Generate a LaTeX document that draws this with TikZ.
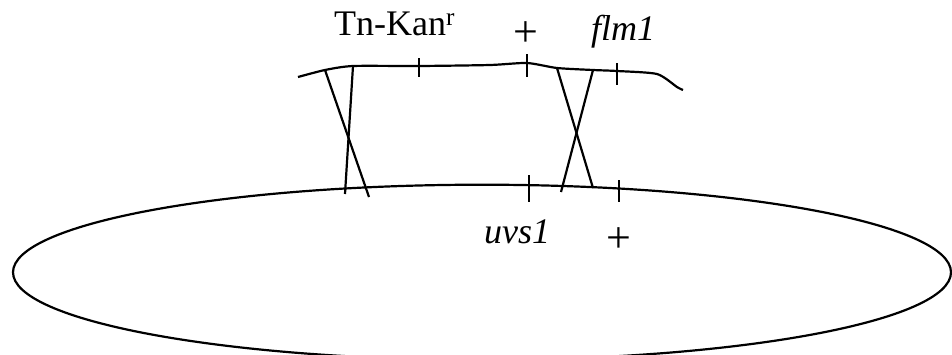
\documentclass[tikz,border=0pt]{standalone}
\usepackage{fontspec}
\setmainfont{Liberation Serif}
\begin{document}
\begin{tikzpicture}[x=1pt,y=-1pt,line width=2.2pt,
  lbl/.style={inner sep=0pt,font=\fontsize{36}{42}\selectfont},
  plus/.style={inner sep=0pt,font=\fontsize{44}{50}\selectfont}]
\useasboundingbox (0,0) rectangle (952,354);
% circular chromosome
\draw (482,272.3) ellipse [x radius=469, y radius=87.6];
% linear fragment
\draw plot[smooth,tension=0.4] coordinates {(298,77) (325,70) (353,66) (419,66) (490,65) (527,63) (557,68) (593,70) (617,71) (657,74) (677,87) (683,90)};
% ticks on fragment
\coordinate (t1a) at (419,58); \coordinate (t1b) at (419,77);
\coordinate (t2a) at (527,54); \coordinate (t2b) at (527,77);
\coordinate (t3a) at (617,63); \coordinate (t3b) at (617,85);
\draw (t1a) -- (t1b); \draw (t2a) -- (t2b); \draw (t3a) -- (t3b);
% ticks on chromosome
\coordinate (c1a) at (529,175); \coordinate (c1b) at (529,202);
\coordinate (c2a) at (619,180); \coordinate (c2b) at (619,202);
\draw (c1a) -- (c1b); \draw (c2a) -- (c2b);
% crossovers
\coordinate (xa1) at (325,70); \coordinate (xa2) at (369,197);
\coordinate (xb1) at (353,66); \coordinate (xb2) at (345,194);
\coordinate (xc1) at (557,68); \coordinate (xc2) at (593,188);
\coordinate (xd1) at (593,70); \coordinate (xd2) at (561,192);
\draw (xa1) -- (xa2); \draw (xb1) -- (xb2);
\draw (xc1) -- (xc2); \draw (xd1) -- (xd2);
% labels
\node[lbl,anchor=base west] (tn) at (333,35) {Tn-Kan\textsuperscript{r}};
\node[plus] (p1) at (526,34) {+};
\node[lbl,anchor=base west] (flm) at (590,40) {\itshape flm1};
\node[lbl,anchor=base west] (uvs) at (483,243) {\itshape uvs1};
\node[plus] (p2) at (619,240) {+};
\end{tikzpicture}
\end{document}
